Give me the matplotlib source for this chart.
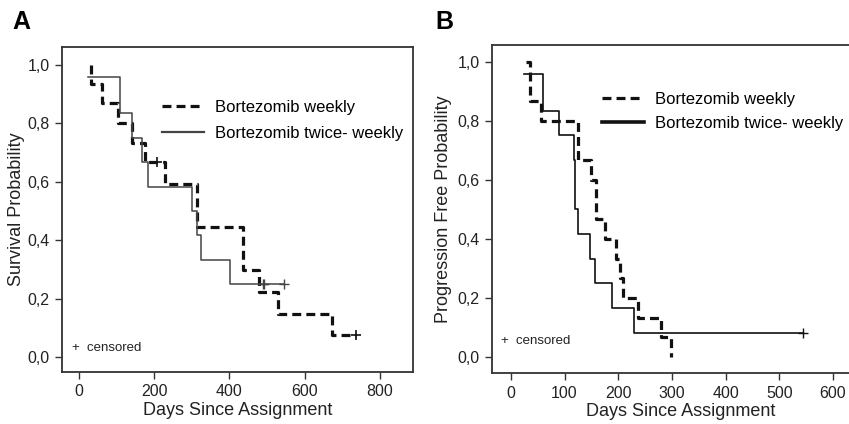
import matplotlib
matplotlib.use('Agg')
import matplotlib.pyplot as plt
from matplotlib.lines import Line2D
from matplotlib.ticker import FuncFormatter

plt.rcParams['font.family'] = ['Liberation Sans', 'DejaVu Sans']

# ---- data ----
# Panel A: overall survival
a_wk_t = [32, 33, 60, 105, 140, 176, 229, 313, 436, 478, 529, 674, 736]
a_wk_s = [1.0, 0.933, 0.867, 0.8, 0.733, 0.667, 0.593, 0.444, 0.296, 0.222, 0.148, 0.074, 0.074]
a_wk_cens_t = [208, 736]
a_wk_cens_s = [0.667, 0.074]

a_tw_t = [25, 109, 140, 167, 183, 300, 313, 325, 402, 545]
a_tw_s = [0.958, 0.833, 0.75, 0.667, 0.583, 0.5, 0.417, 0.333, 0.25, 0.25]
a_tw_cens_t = [488, 492, 545]
a_tw_cens_s = [0.25, 0.25, 0.25]

# Panel B: progression free
b_wk_t = [28, 35, 57, 125, 150, 159, 176, 196, 203, 208, 237, 280, 298]
b_wk_s = [1.0, 0.867, 0.8, 0.667, 0.6, 0.467, 0.4, 0.333, 0.267, 0.2, 0.133, 0.067, 0.0]

b_tw_t = [25, 60, 89, 117, 119, 126, 148, 156, 189, 230, 544]
b_tw_s = [0.958, 0.833, 0.75, 0.667, 0.5, 0.417, 0.333, 0.25, 0.167, 0.083, 0.083]
b_tw_cens_t = [544]
b_tw_cens_s = [0.083]

labels = ['Bortezomib weekly', 'Bortezomib twice- weekly']
a_xticks = [0, 200, 400, 600, 800]
b_xticks = [0, 100, 200, 300, 400, 500, 600]
yticks = [0.0, 0.2, 0.4, 0.6, 0.8, 1.0]

dash_col = '#111111'
frame_col = '#333333'


def style_axes(ax, xticks, xlim, ylim, ylabel, ypad):
    ax.set_xlim(*xlim)
    ax.set_ylim(*ylim)
    ax.set_xticks(xticks)
    ax.set_yticks(yticks)
    ax.yaxis.set_major_formatter(FuncFormatter(lambda v, p: f'{v:.1f}'.replace('.', ',')))
    ax.tick_params(direction='out', length=5, width=1, colors=frame_col,
                   labelsize=11.5, labelcolor='#222222', pad=4)
    for sp in ax.spines.values():
        sp.set_color(frame_col)
        sp.set_linewidth(1.3)
    ax.set_xlabel('Days Since Assignment', fontsize=13, color='#222222', labelpad=2)
    ax.set_ylabel(ylabel, fontsize=13, color='#222222', labelpad=ypad)


fig = plt.figure(figsize=(8.49, 4.24), dpi=100)

# ---- Panel A ----
axA = fig.add_axes([62/849, 1-372/424, 351/849, 325/424])
axA.step(a_wk_t, a_wk_s, where='post', color=dash_col, lw=2.3, dashes=(2.8, 1.6))
axA.step(a_tw_t, a_tw_s, where='post', color='#444444', lw=1.1)
axA.plot(a_wk_cens_t, a_wk_cens_s, ls='none', marker='+', ms=7, mew=1.2, color=dash_col)
axA.plot(a_tw_cens_t, a_tw_cens_s, ls='none', marker='+', ms=7, mew=1.0, color='#444444')
style_axes(axA, a_xticks, (-45, 888), (-0.051, 1.06), 'Survival Probability', 1.5)
hA = [Line2D([], [], color=dash_col, lw=2.3, dashes=(2.8, 1.6)),
      Line2D([], [], color='#444444', lw=1.6)]
axA.legend(hA, labels, loc='upper left', bbox_to_anchor=(0.285, 0.836), frameon=False,
           fontsize=12, handlelength=2.5, handletextpad=0.65, borderpad=0,
           borderaxespad=0, labelspacing=0.65)
axA.text(0.028, 0.074, '+  censored', transform=axA.transAxes, fontsize=9.5,
         va='center', ha='left', color='#222222')
fig.text(12/849, 1-22/424, 'A', fontsize=18, fontweight='bold', va='center', ha='left')

# ---- Panel B ----
axB = fig.add_axes([492/849, 1-373/424, 377/849, 328/424])
axB.step(b_wk_t, b_wk_s, where='post', color=dash_col, lw=2.3, dashes=(2.8, 1.6))
axB.step(b_tw_t, b_tw_s, where='post', color='#111111', lw=1.2)
axB.plot(b_tw_cens_t, b_tw_cens_s, ls='none', marker='+', ms=7, mew=1.0, color='#111111')
style_axes(axB, b_xticks, (-35, 667), (-0.054, 1.056), 'Progression Free Probability', 4)
hB = [Line2D([], [], color=dash_col, lw=2.3, dashes=(2.8, 1.6)),
      Line2D([], [], color='#111111', lw=2.6)]
axB.legend(hB, labels, loc='upper left', bbox_to_anchor=(0.292, 0.858), frameon=False,
           fontsize=12, handlelength=2.5, handletextpad=0.65, borderpad=0,
           borderaxespad=0, labelspacing=0.55)
axB.text(0.024, 0.098, '+  censored', transform=axB.transAxes, fontsize=9.5,
         va='center', ha='left', color='#222222')
fig.text(435/849, 1-22/424, 'B', fontsize=18, fontweight='bold', va='center', ha='left')

fig.savefig('out.png', dpi=100)
